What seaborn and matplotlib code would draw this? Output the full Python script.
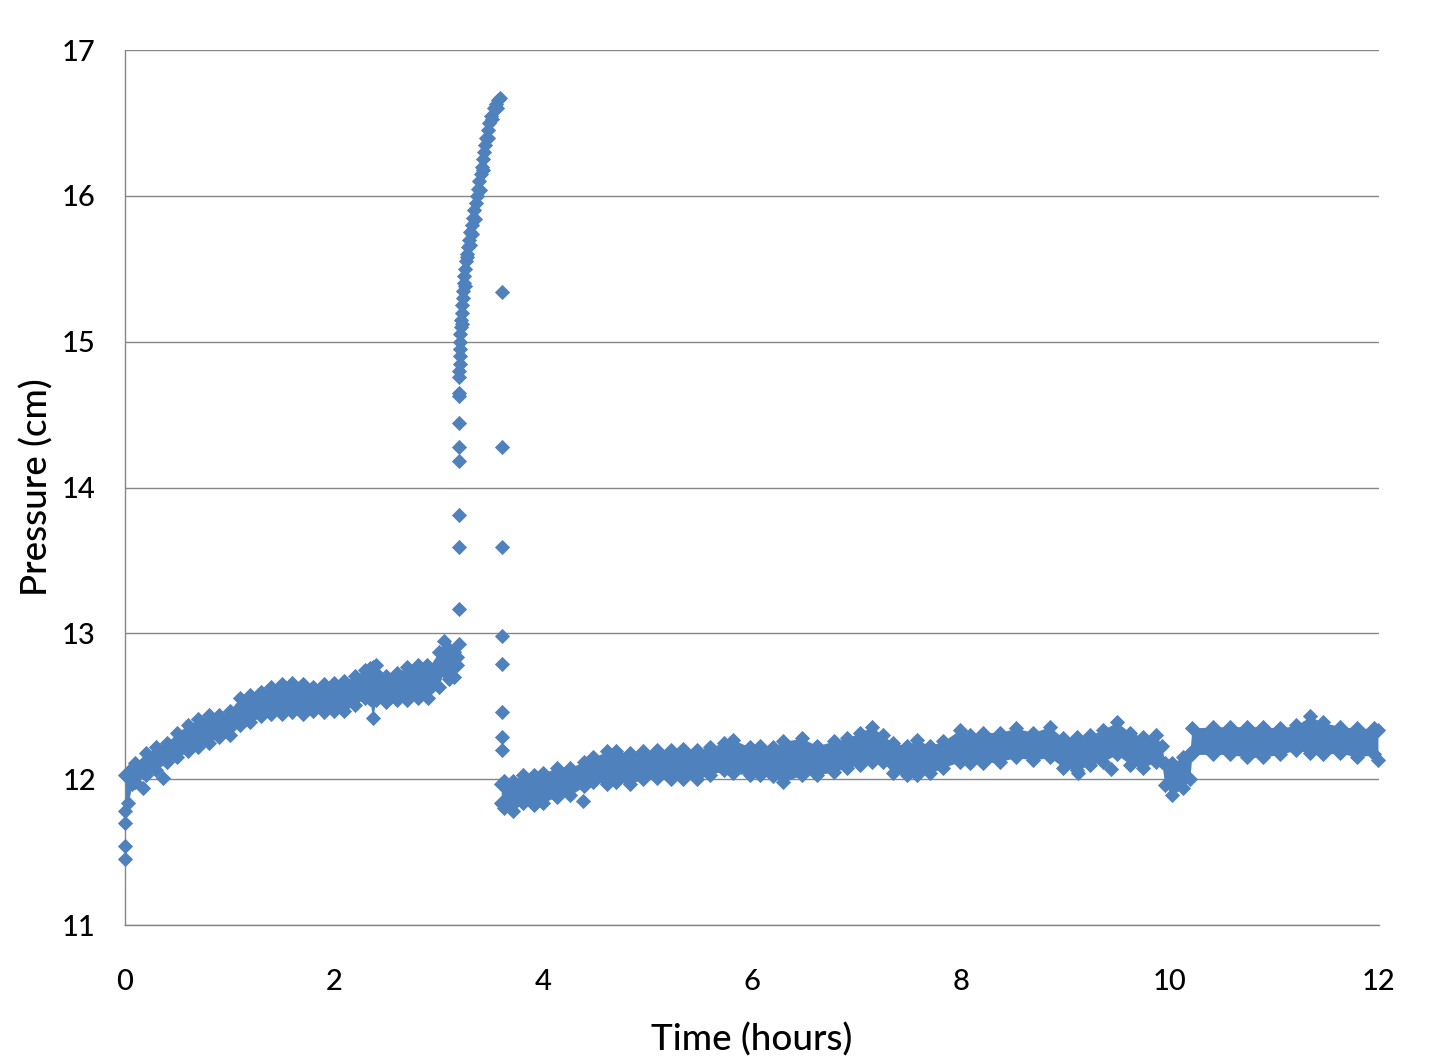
import numpy as np
import pandas as pd
import matplotlib
matplotlib.use("Agg")
import matplotlib.pyplot as plt
from matplotlib.ticker import MultipleLocator
import seaborn as sns

# band before the spike: time (h), upper / lower edge of the point cloud (cm)
t_early = [0.00, 0.03, 0.07, 0.10, 0.20, 0.30, 0.40, 0.50, 0.60, 0.70, 0.80, 0.90,
           1.00, 1.10, 1.20, 1.30, 1.40, 1.50, 1.60, 1.70, 1.80, 1.90, 2.00, 2.10,
           2.20, 2.30, 2.34, 2.37, 2.40, 2.50, 2.60, 2.70, 2.80, 2.90, 3.00, 3.05,
           3.10, 3.15, 3.18]
hi_early = [12.03, 12.04, 12.08, 12.11, 12.18, 12.22, 12.25, 12.32, 12.37, 12.41, 12.44, 12.44,
            12.47, 12.56, 12.58, 12.60, 12.63, 12.65, 12.66, 12.65, 12.63, 12.65, 12.66, 12.67,
            12.71, 12.75, 12.76, 12.77, 12.78, 12.71, 12.73, 12.77, 12.78, 12.76, 12.87, 12.95,
            12.89, 12.87, 12.84]
lo_early = [11.78, 11.84, 11.97, 11.98, 12.03, 12.06, 12.12, 12.15, 12.19, 12.22, 12.25, 12.29,
            12.30, 12.37, 12.39, 12.43, 12.45, 12.45, 12.46, 12.45, 12.47, 12.46, 12.47, 12.47,
            12.51, 12.56, 12.55, 12.42, 12.54, 12.53, 12.54, 12.54, 12.56, 12.56, 12.63, 12.74,
            12.69, 12.70, 12.78]

# band after the spike (includes the dip near 10 h)
t_late = [3.60, 3.63, 3.71, 3.81, 3.91, 4.00, 4.13, 4.26, 4.39, 4.48, 4.61, 4.70,
          4.83, 4.96, 5.09, 5.22, 5.34, 5.47, 5.60, 5.73, 5.82, 5.98, 6.08, 6.20,
          6.30, 6.48, 6.62, 6.78, 6.91, 7.03, 7.15, 7.25, 7.35, 7.48, 7.58, 7.70,
          7.83, 7.99, 8.09, 8.21, 8.37, 8.53, 8.69, 8.85, 8.98, 9.11, 9.23, 9.36,
          9.49, 9.62, 9.74, 9.87, 9.92, 9.95, 10.02, 10.12, 10.19, 10.21, 10.41, 10.57,
          10.74, 10.89, 11.05, 11.21, 11.34, 11.46, 11.63, 11.79, 11.95, 11.99]
hi_late = [11.97, 11.99, 11.99, 12.03, 12.03, 12.04, 12.08, 12.08, 12.12, 12.15, 12.19, 12.19,
           12.18, 12.19, 12.20, 12.20, 12.21, 12.20, 12.22, 12.25, 12.27, 12.22, 12.23, 12.22,
           12.26, 12.28, 12.23, 12.26, 12.28, 12.32, 12.36, 12.30, 12.25, 12.23, 12.27, 12.23,
           12.26, 12.34, 12.30, 12.32, 12.32, 12.35, 12.32, 12.36, 12.28, 12.29, 12.30, 12.34,
           12.39, 12.32, 12.29, 12.30, 12.23, 12.11, 12.11, 12.15, 12.18, 12.35, 12.36, 12.36,
           12.36, 12.36, 12.35, 12.37, 12.43, 12.39, 12.36, 12.35, 12.35, 12.34]
lo_late = [11.84, 11.80, 11.78, 11.84, 11.82, 11.84, 11.88, 11.89, 11.95, 11.98, 11.97, 11.98,
           11.97, 12.00, 12.01, 12.00, 12.00, 12.00, 12.03, 12.06, 12.04, 12.03, 12.03, 12.02,
           11.98, 12.03, 12.03, 12.05, 12.08, 12.10, 12.12, 12.12, 12.04, 12.03, 12.03, 12.04,
           12.08, 12.12, 12.11, 12.11, 12.12, 12.15, 12.13, 12.15, 12.08, 12.06, 12.10, 12.12,
           12.17, 12.10, 12.08, 12.12, 12.12, 11.96, 11.89, 11.94, 12.00, 12.17, 12.17, 12.17,
           12.15, 12.15, 12.17, 12.20, 12.18, 12.17, 12.18, 12.15, 12.17, 12.13]

# the steep rise between 3.2 and 3.6 h
t_rise = [3.200, 3.200, 3.201, 3.202, 3.204, 3.206, 3.209, 3.213, 3.217, 3.221, 3.226,
          3.232, 3.238, 3.243, 3.248, 3.254, 3.261, 3.268, 3.280, 3.292, 3.305, 3.316,
          3.328, 3.342, 3.355, 3.370, 3.382, 3.392, 3.402, 3.412, 3.422, 3.432, 3.443,
          3.455, 3.470, 3.485, 3.505, 3.530, 3.550, 3.570, 3.585,
          3.225, 3.250, 3.275, 3.300, 3.320, 3.345, 3.395, 3.425, 3.470, 3.515, 3.560]
p_rise = [14.76, 14.80, 14.85, 14.90, 14.95, 15.00, 15.05, 15.10, 15.15, 15.20, 15.25,
          15.30, 15.35, 15.40, 15.45, 15.50, 15.55, 15.60, 15.65, 15.70, 15.75, 15.80,
          15.85, 15.90, 15.95, 16.00, 16.05, 16.10, 16.15, 16.20, 16.25, 16.30, 16.35,
          16.40, 16.45, 16.50, 16.55, 16.60, 16.63, 16.66, 16.67,
          15.12, 15.38, 15.58, 15.66, 15.74, 15.84, 16.04, 16.18, 16.40, 16.53, 16.60]

# isolated readings
t_single = [0.00, 0.00, 0.00, 0.17, 0.36, 2.89, 3.196, 3.196, 3.196, 3.196, 3.196, 3.196,
            3.196, 3.196, 3.196, 3.61, 3.61, 3.61, 3.61, 3.61, 3.61, 3.61, 3.61,
            4.38, 9.12, 9.44]
p_single = [11.70, 11.54, 11.45, 11.94, 12.01, 12.78, 12.93, 13.17, 13.59, 13.81, 14.18, 14.28,
            14.44, 14.63, 14.65, 15.34, 14.28, 13.59, 12.98, 12.79, 12.46, 12.29, 12.20,
            11.85, 12.04, 12.07]

blue = "#4F81BD"
grey = "#868686"

sns.set_style("white")
plt.rcParams["font.family"] = ["Lato", "DejaVu Sans"]

points = pd.DataFrame({
    "hours": t_early + t_early + t_late + t_late + t_rise + t_single,
    "pressure": hi_early + lo_early + hi_late + lo_late + p_rise + p_single,
})

fig = plt.figure(figsize=(14.39, 10.64), dpi=100)
ax = fig.add_axes([0.0869, 0.1306, 0.8714, 0.8224])

# dense cloud interior
ax.fill_between(t_early, lo_early, hi_early, color=blue, linewidth=0)
ax.fill_between(t_late, lo_late, hi_late, color=blue, linewidth=0)

sns.scatterplot(data=points, x="hours", y="pressure", marker="D", s=60,
                color=blue, linewidth=0, ax=ax, clip_on=False, zorder=3)

ax.set_xlim(0, 12)
ax.set_ylim(11, 17)
ax.xaxis.set_major_locator(MultipleLocator(2))
ax.xaxis.set_minor_locator(MultipleLocator(1))
ax.yaxis.set_major_locator(MultipleLocator(1))

ax.grid(axis="y", color=grey, linewidth=1.0)
ax.set_axisbelow(True)
for side in ["top", "right"]:
    ax.spines[side].set_visible(False)
for side in ["left", "bottom"]:
    ax.spines[side].set_color(grey)
    ax.spines[side].set_linewidth(1.0)

ax.tick_params(axis="x", which="major", direction="inout", length=15, width=1.0,
               color=grey, labelsize=21, labelcolor="black", pad=24)
ax.tick_params(axis="x", which="minor", direction="in", length=6, width=1.0, color=grey)
ax.tick_params(axis="y", which="major", direction="out", length=8, width=1.0,
               color=grey, labelsize=21, labelcolor="black", pad=13)
for lbl in ax.get_xticklabels() + ax.get_yticklabels():
    lbl.set_fontweight("medium")

ax.set_xlabel("Time (hours)", fontsize=26.5, labelpad=20, color="black", fontweight="medium")
ax.set_ylabel("Pressure (cm)", fontsize=26.5, labelpad=6, color="black", fontweight="medium")

fig.savefig("out.png", dpi=100)
